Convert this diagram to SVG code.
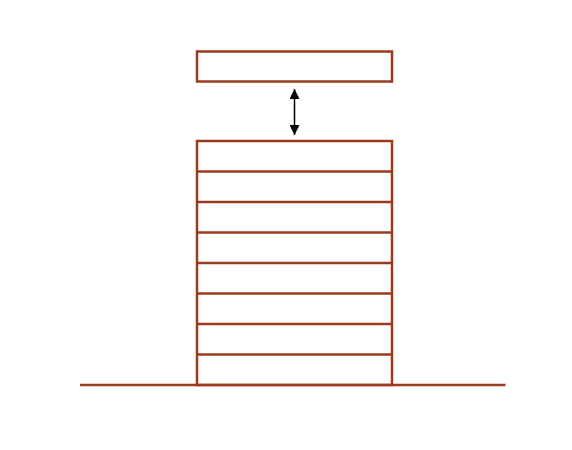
<svg xmlns="http://www.w3.org/2000/svg" width="572" height="450" viewBox="0 0 572 450">
<style>
.b{fill:none;stroke:#9a3a1e;stroke-width:2.5}
.c{stroke:#000;stroke-width:1.5;fill:none}
</style>
<defs>
<marker id="ah" viewBox="0 0 10 10" refX="10" refY="5" markerWidth="10" markerHeight="10" orient="auto-start-reverse" markerUnits="userSpaceOnUse">
<path d="M0,0 L10,5 L0,10 Z" fill="#000"/>
</marker>
</defs>
<rect width="572" height="450" fill="#fff"/>
<g id="top-block"><rect class="b" x="197" y="51.5" width="195" height="30"/></g>
<g id="stack">
<rect class="b" x="197" y="141" width="195" height="244"/>
<line class="b" x1="197" y1="171.5" x2="392" y2="171.5"/>
<line class="b" x1="197" y1="202" x2="392" y2="202"/>
<line class="b" x1="197" y1="232.5" x2="392" y2="232.5"/>
<line class="b" x1="197" y1="263" x2="392" y2="263"/>
<line class="b" x1="197" y1="293.5" x2="392" y2="293.5"/>
<line class="b" x1="197" y1="324" x2="392" y2="324"/>
<line class="b" x1="197" y1="354.5" x2="392" y2="354.5"/>
</g>
<g id="ground"><line class="b" x1="80" y1="385" x2="505.5" y2="385"/></g>
<g id="connectors"><line class="c" x1="294.5" y1="89" x2="294.5" y2="135" marker-start="url(#ah)" marker-end="url(#ah)"/></g>
</svg>
